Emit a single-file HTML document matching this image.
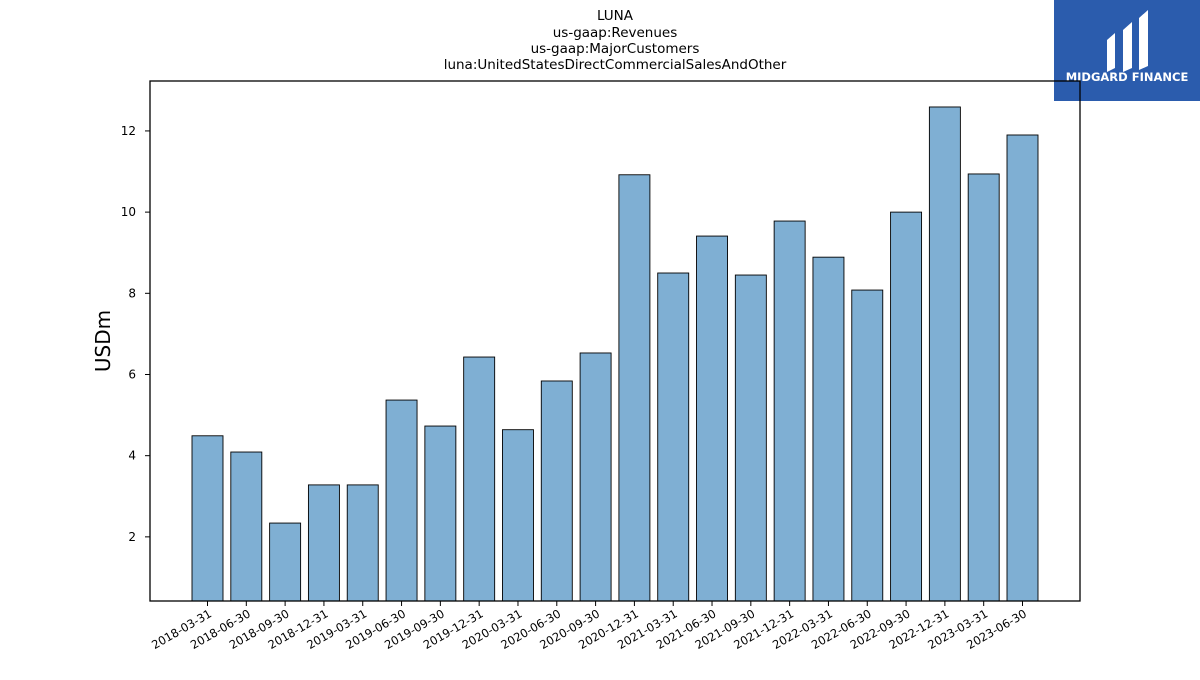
<!DOCTYPE html>
<html><head><meta charset="utf-8"><style>
body{margin:0;background:#fff;}
svg text{font-family:"DejaVu Sans","Liberation Sans",sans-serif;}
</style></head><body>
<svg width="1200" height="675" xmlns="http://www.w3.org/2000/svg">
<g font-size="13.5" text-anchor="middle" fill="#000">
<text x="615" y="20">LUNA</text>
<text x="615" y="37">us-gaap:Revenues</text>
<text x="615" y="53">us-gaap:MajorCustomers</text>
<text x="615" y="69">luna:UnitedStatesDirectCommercialSalesAndOther</text>
</g>
<g>
<rect x="1054" y="0" width="146" height="101" fill="#2b5cad"/>
<path d="M1107 40 L1115 33 L1115 68 L1107 72 Z M1123 30 L1132 22 L1132 68 L1123 72 Z M1139 18 L1148 10 L1148 66 L1139 70 Z" fill="#fff"/>
<text x="1127" y="81" font-size="11.5" font-weight="bold" fill="#fff" text-anchor="middle">MIDGARD FINANCE</text>
</g>
<text x="110" y="341" font-size="20" text-anchor="middle" transform="rotate(-90 110 341)">USDm</text>
<g id="bars"></g>
<g id="yticks"></g>
<g id="xticks"></g>
<rect x="150" y="81" width="930" height="520" fill="none" stroke="#000" stroke-width="1.3"/>
</svg>
<script>
var categories=["2018-03-31","2018-06-30","2018-09-30","2018-12-31","2019-03-31","2019-06-30","2019-09-30","2019-12-31","2020-03-31","2020-06-30","2020-09-30","2020-12-31","2021-03-31","2021-06-30","2021-09-30","2021-12-31","2022-03-31","2022-06-30","2022-09-30","2022-12-31","2023-03-31","2023-06-30"];
var values=[4.49,4.09,2.34,3.28,3.28,5.37,4.73,6.43,4.64,5.84,6.53,10.92,8.50,9.41,8.45,9.78,8.89,8.08,10.0,12.59,10.94,11.90];
var yTicks=[2,4,6,8,10,12];
(function(){
const NS="http://www.w3.org/2000/svg";
const yMin=0.42,yMax=13.23,plotTop=81,plotBottom=601;
function y(v){return plotBottom-(v-yMin)/(yMax-yMin)*(plotBottom-plotTop);}
const x0=207.5,x1=1022.5;
function x(i){return x0+i*(x1-x0)/(categories.length-1);}
const bw=31;
const gb=document.getElementById('bars'),gy=document.getElementById('yticks'),gx=document.getElementById('xticks');
values.forEach((v,i)=>{
 const r=document.createElementNS(NS,'rect');
 
 
 r.setAttribute('x',x(i)-bw/2);r.setAttribute('y',y(v));r.setAttribute('width',bw);r.setAttribute('height',plotBottom-y(v));
 r.setAttribute('fill','#7fafd3');r.setAttribute('stroke','#000');r.setAttribute('stroke-width','0.9');
 gb.appendChild(r);
});
yTicks.forEach(t=>{
 const l=document.createElementNS(NS,'line');
 
 
 l.setAttribute('x1',145);l.setAttribute('x2',150);l.setAttribute('y1',y(t));l.setAttribute('y2',y(t));l.setAttribute('stroke','#000');
 gy.appendChild(l);
 const tx=document.createElementNS(NS,'text');
 
 
 tx.setAttribute('x',136);tx.setAttribute('y',y(t)+4);tx.setAttribute('font-size','12');tx.setAttribute('text-anchor','end');
 tx.textContent=t;gy.appendChild(tx);
});
categories.forEach((c,i)=>{
 const l=document.createElementNS(NS,'line');
 
 
 l.setAttribute('x1',x(i));l.setAttribute('x2',x(i));l.setAttribute('y1',601);l.setAttribute('y2',606);l.setAttribute('stroke','#000');
 gx.appendChild(l);
 const tx=document.createElementNS(NS,'text');
 
 
 const px=x(i)+5,py=616;
 tx.setAttribute('x',px);tx.setAttribute('y',py);tx.setAttribute('font-size','11.5');tx.setAttribute('text-anchor','end');
 tx.setAttribute('transform','rotate(-30 '+px+' '+py+')');
 tx.textContent=c;gx.appendChild(tx);
});
})();
</script>
</body></html>
